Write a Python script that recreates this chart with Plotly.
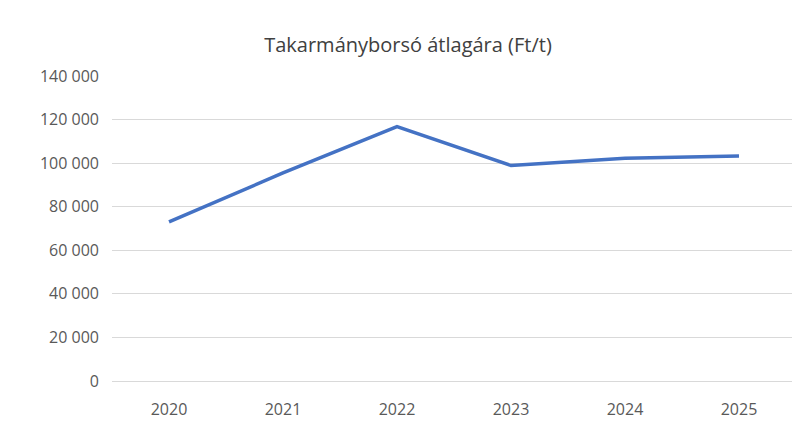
import plotly.graph_objects as go

years = ["2020", "2021", "2022", "2023", "2024", "2025"]
prices = [73000, 95500, 116800, 98900, 102300, 103300]
y_ticks = [0, 20000, 40000, 60000, 80000, 100000, 120000, 140000]
y_labels = ["0", "20 000", "40 000", "60 000", "80 000", "100 000", "120 000", "140 000"]

fig = go.Figure(go.Scatter(x=years, y=prices, mode="lines",
                           line=dict(color="#4472C4", width=3.5)))

fig.update_layout(
    width=800, height=430,
    paper_bgcolor="white", plot_bgcolor="white",
    font=dict(family="Open Sans", color="#595959", size=16),
    title=dict(text="Takarmányborsó átlagára (Ft/t)", x=0.5, xanchor="center",
               y=0.93, font=dict(size=20, color="#404040")),
    margin=dict(l=104, r=12, t=68, b=57),
    showlegend=False,
)
fig.update_xaxes(type="category", range=[-0.5, 5.5], showgrid=False, showline=True,
                 linecolor="#d9d9d9", ticks="", tickfont=dict(size=16),
                 ticklabelstandoff=14)
fig.update_yaxes(range=[0, 140000], tickvals=y_ticks, ticktext=y_labels,
                 showgrid=True, gridcolor="#d9d9d9", zeroline=False,
                 ticklabelstandoff=12)

fig.write_html("out.html")
